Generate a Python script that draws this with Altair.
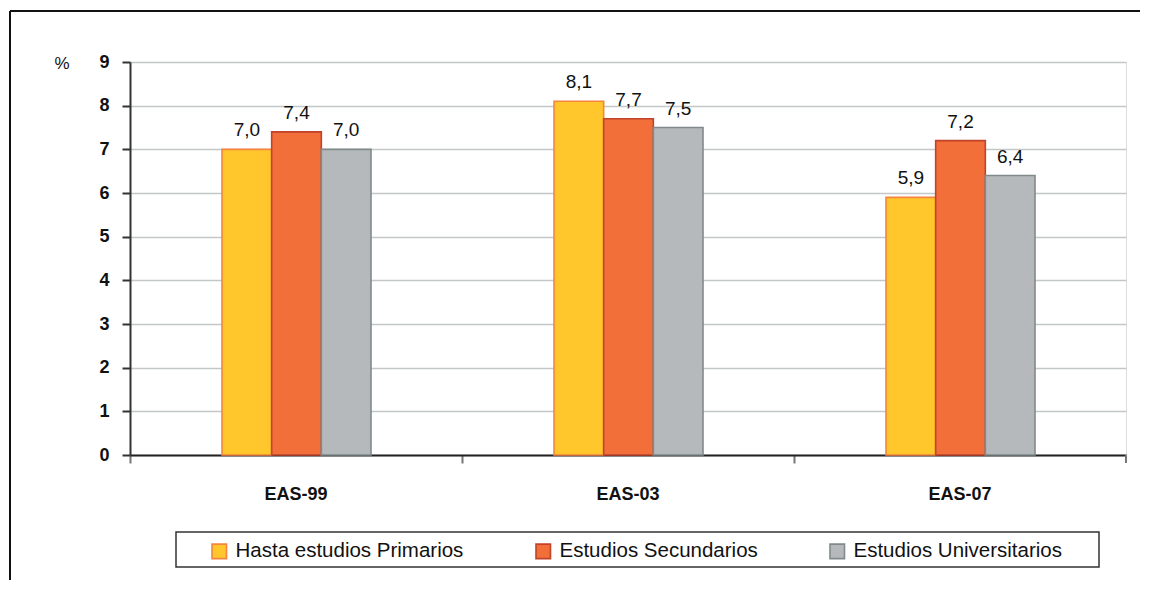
import altair as alt
import pandas as pd

periods = ["EAS-99", "EAS-03", "EAS-07"]
series = ["Hasta estudios Primarios", "Estudios Secundarios", "Estudios Universitarios"]
primarios = [7.0, 8.1, 5.9]
secundarios = [7.4, 7.7, 7.2]
universitarios = [7.0, 7.5, 6.4]
fills = ["#FFC72C", "#F26F3A", "#B6B9BB"]
strokes = ["#F5843F", "#C0432A", "#808A8B"]
y_ticks = [0, 1, 2, 3, 4, 5, 6, 7, 8, 9]

rows = []
for s, vals in zip(series, [primarios, secundarios, universitarios]):
    for p, v in zip(periods, vals):
        rows.append({"period": p, "series": s, "value": v,
                     "label": f"{v:.1f}".replace(".", ",")})
df = pd.DataFrame(rows)

W, H = 996, 393
FONT = "Liberation Sans"

x_enc = alt.X("period:N", sort=periods, title=None,
              scale=alt.Scale(paddingInner=0, paddingOuter=0),
              axis=alt.Axis(bandPosition=0, labelAngle=0,
                            labelFont=FONT, labelFontSize=18, labelFontWeight="bold",
                            labelColor="#111", labelPadding=22,
                            domainColor="#222", domainWidth=2,
                            tickColor="#777", tickWidth=2, tickSize=8))
y_enc = alt.Y("value:Q", title=None,
              scale=alt.Scale(domain=[0, 9], nice=False),
              axis=alt.Axis(values=y_ticks, labelFont=FONT, labelFontSize=18,
                            labelFontWeight="bold", labelColor="#111",
                            labelPadding=13, tickSize=8, tickColor="#333",
                            tickWidth=2, domainColor="#333", domainWidth=2,
                            grid=True, gridColor="#C3C7C7", gridWidth=1.5))
xoff = alt.XOffset("series:N", sort=series,
                   scale=alt.Scale(paddingInner=0, paddingOuter=0, range=[92, 241]))

legend = alt.Legend(title=None, orient="none", direction="horizontal",
                    legendX=79, legendY=479, symbolType="square", symbolSize=210,
                    symbolStrokeWidth=1.6, labelFont=FONT, labelFontSize=20.5,
                    labelLimit=500, labelColor="#111", labelOffset=6,
                    columnPadding=68, padding=0)

bars = alt.Chart(df).mark_bar(strokeWidth=1.6).encode(
    x=x_enc, y=y_enc, xOffset=xoff,
    fill=alt.Fill("series:N", sort=series,
                  scale=alt.Scale(domain=series, range=fills), legend=legend),
    stroke=alt.Stroke("series:N", sort=series,
                      scale=alt.Scale(domain=series, range=strokes), legend=legend),
)

labels = alt.Chart(df).mark_text(baseline="bottom", dy=-9, font=FONT,
                                 fontSize=19, color="#111").encode(
    x=alt.X("period:N", sort=periods), y=alt.Y("value:Q"), xOffset=xoff,
    text="label:N",
)

one = alt.Data(values=[{"a": 1}])

pct = alt.Chart(one).mark_text(font=FONT, fontSize=17, color="#111",
                               baseline="middle", align="center").encode(
    x=alt.value(-68), y=alt.value(2), text=alt.value("%"))

frame_top = alt.Chart(one).mark_rule(color="#111", strokeWidth=2).encode(
    x=alt.value(-120), x2=alt.value(1010), y=alt.value(-51))
frame_left = alt.Chart(one).mark_rule(color="#111", strokeWidth=2).encode(
    x=alt.value(-120), y=alt.value(-51), y2=alt.value(518))
right_tick = alt.Chart(one).mark_rule(color="#777", strokeWidth=2).encode(
    x=alt.value(W), y=alt.value(H), y2=alt.value(H + 8))

legend_box = alt.Chart(one).mark_rect(fill="white", stroke="#333",
                                      strokeWidth=1.5).encode(
    x=alt.value(46), x2=alt.value(969), y=alt.value(470), y2=alt.value(505))

chart = alt.layer(legend_box, bars, labels, pct, frame_top, frame_left, right_tick
).properties(width=W, height=H, padding={"left": 1, "top": 2, "right": 0, "bottom": 0}
).configure_view(stroke="#8C9494", strokeWidth=2
).configure(background="white")

chart.save("out.html", embed_options={"renderer": "svg", "actions": False})
